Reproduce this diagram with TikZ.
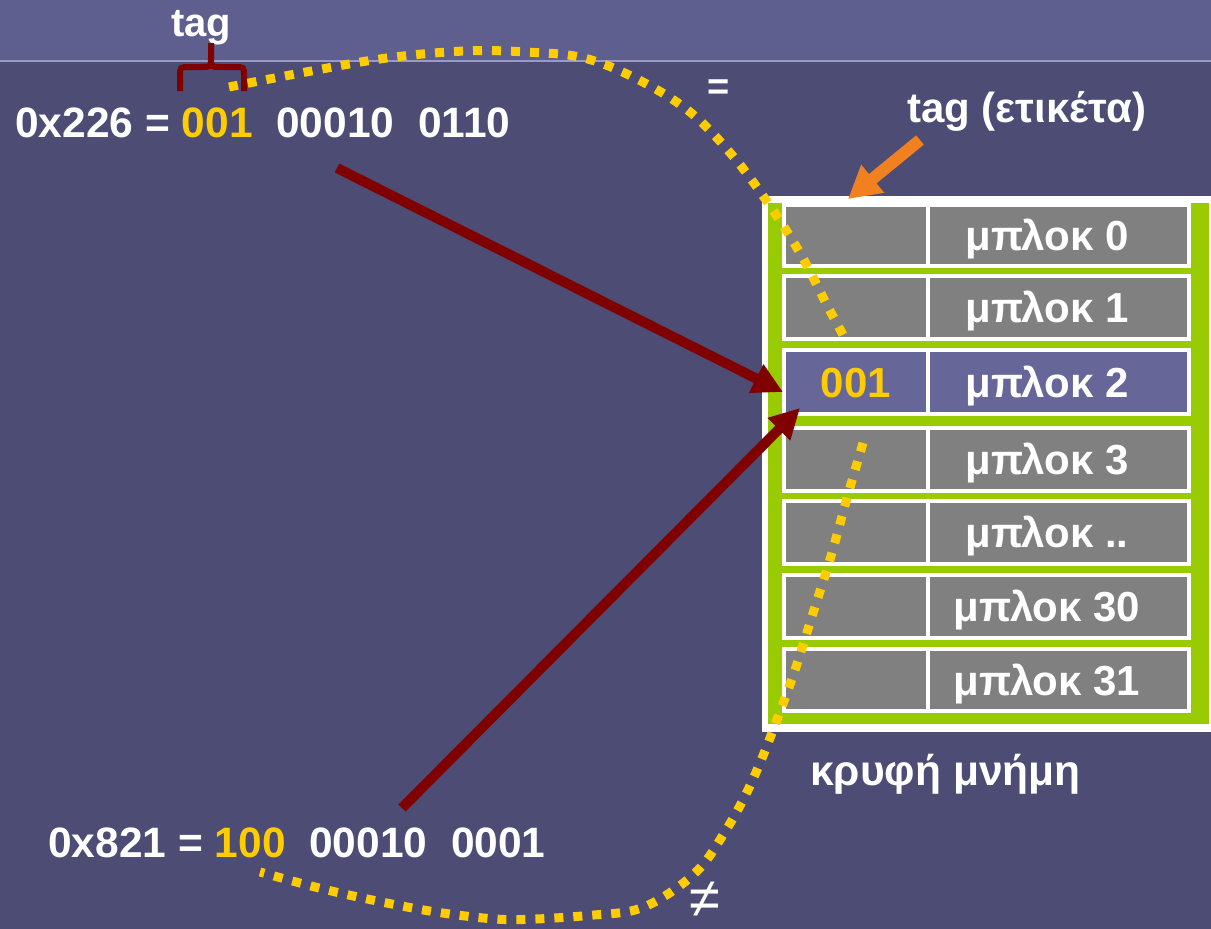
\documentclass[tikz,border=0pt]{standalone}
\usepackage{fontspec}
\setmainfont{Liberation Sans}
\usetikzlibrary{arrows.meta}
\definecolor{bgmain}{RGB}{76,76,117}
\definecolor{bgtop}{RGB}{94,94,143}
\definecolor{bgline}{RGB}{154,154,200}
\definecolor{cellgray}{RGB}{128,128,128}
\definecolor{cellhi}{RGB}{102,102,153}
\definecolor{cachegreen}{RGB}{153,204,0}
\definecolor{tagyellow}{RGB}{255,204,0}
\definecolor{darkred}{RGB}{128,0,0}
\definecolor{tagorange}{RGB}{240,128,32}
\begin{document}
\begin{tikzpicture}[x=1pt,y=-1pt,
  lbl/.style={text=white,font=\fontsize{42.5}{50}\selectfont\bfseries,inner sep=0pt},
  tagcell/.style={draw=white,line width=4pt,fill=cellgray,minimum width=144pt,inner sep=0pt,
    text=tagyellow,font=\fontsize{42}{50}\selectfont\bfseries,text height=30pt,text depth=0pt},
  blkcell/.style={draw=white,line width=4pt,fill=cellgray,minimum width=261pt,inner sep=0pt,
    text=white,font=\fontsize{42}{50}\selectfont\bfseries,text height=30pt,text depth=0pt},
  ptr/.style={draw=darkred,line width=10pt,-{Triangle[length=30pt,width=30pt]}},
  hint/.style={draw=tagorange,line width=12pt,-{Triangle[length=32pt,width=34pt]}},
  cmp/.style={draw=tagyellow,line width=9pt,dash pattern=on 9pt off 10pt},
  brace/.style={draw=darkred,line width=6pt},
]
% background
\useasboundingbox (0,0) rectangle (1211,929);
\fill[bgmain] (0,0) rectangle (1211,929);
\fill[bgtop] (0,0) rectangle (1211,60);
\draw[bgline,line width=2pt] (0,61) -- (1211,61);

% cache frame
\fill[white] (762,196) rectangle (1211,732);
\fill[cachegreen] (768,203) rectangle (1209,724);

% rows
\node[tagcell,minimum height=61pt] (t0) at (856,235.5) {};
\node[blkcell,minimum height=61pt] (b0) at (1058.5,235.5) {μπλοκ 0\hspace*{23pt}};
\node[tagcell,minimum height=63pt] (t1) at (856,307.5) {};
\node[blkcell,minimum height=63pt] (b1) at (1058.5,307.5) {μπλοκ 1\hspace*{23pt}};
\node[tagcell,fill=cellhi,minimum height=64pt] (t2) at (856,382) {001};
\node[blkcell,fill=cellhi,minimum height=64pt] (b2) at (1058.5,382) {μπλοκ 2\hspace*{23pt}};
\node[tagcell,minimum height=63pt] (t3) at (856,459.5) {};
\node[blkcell,minimum height=63pt] (b3) at (1058.5,459.5) {μπλοκ 3\hspace*{23pt}};
\node[tagcell,minimum height=63pt] (t4) at (856,532.5) {};
\node[blkcell,minimum height=63pt] (b4) at (1058.5,532.5) {μπλοκ ..\hspace*{23pt}};
\node[tagcell,minimum height=63pt] (t5) at (856,606.5) {};
\node[blkcell,minimum height=63pt] (b5) at (1058.5,606.5) {μπλοκ 30\hspace*{23pt}};
\node[tagcell,minimum height=62pt] (t6) at (856,680) {};
\node[blkcell,minimum height=62pt] (b6) at (1058.5,680) {μπλοκ 31\hspace*{23pt}};

% labels
\node[lbl,anchor=base,font=\fontsize{40}{48}\selectfont\bfseries] (tagtop) at (201,36) {tag};
\node[lbl,anchor=base west] (addrA) at (15,137) {0x226 = \textcolor{tagyellow}{001}~~00010~~0110};
\node[lbl,anchor=base west] (addrB) at (48,857) {0x821 = \textcolor{tagyellow}{100}~~00010~~0001};
\node[lbl,anchor=base west,font=\fontsize{42}{48}\selectfont\bfseries] (tagname) at (907,122) {tag (ετικέτα)};
\node[lbl,anchor=base west] (cachename) at (810,785) {κρυφή μνήμη};
\node[lbl,font=\fontsize{38}{44}\selectfont\bfseries] (eq) at (719,90) {=};
\node[lbl,font=\fontsize{56}{64}\selectfont] (neq) at (705,900) {≠};

% brace under "tag"
\draw[brace] (180,91) -- (180,76) .. controls (180,67) .. (189,67) -- (202,67) .. controls (211,67) .. (211,58) -- (211,43);
\draw[brace] (211,58) .. controls (211,67) .. (220,67) -- (235,67) .. controls (244,67) .. (244,76) -- (244,91);

% comparison curves
\coordinate (cAs) at (229,87);
\coordinate (cAe) at (847,342);
\draw[cmp] plot[smooth,tension=0.6] coordinates {(cAs) (306,72) (387,58) (465,51) (526,52) (584,58) (639,80) (690,112) (732,155) (768,203) (800,253) (828,307) (cAe)};
\coordinate (cBs) at (863,443);
\coordinate (cBe) at (260,872);
\draw[cmp] plot[smooth,tension=0.6] coordinates {(cBs) (847,498) (831,556) (813,613) (795,670) (778,717) (760,763) (743,800) (723,835) (700,868) (668,894) (635,910) (594,915) (536,919) (495,919) (436,912) (377,901) (319,888) (cBe)};

% pointer arrows
\coordinate (pA) at (337,168);
\coordinate (pAt) at (783,392);
\draw[ptr] (pA) -- (pAt);
\coordinate (pB) at (402,808);
\coordinate (pBt) at (800,408);
\draw[ptr] (pB) -- (pBt);

% orange arrow to tag field
\coordinate (oA) at (920,140);
\coordinate (oAt) at (848,199);
\draw[hint] (oA) -- (oAt);
\end{tikzpicture}
\end{document}
